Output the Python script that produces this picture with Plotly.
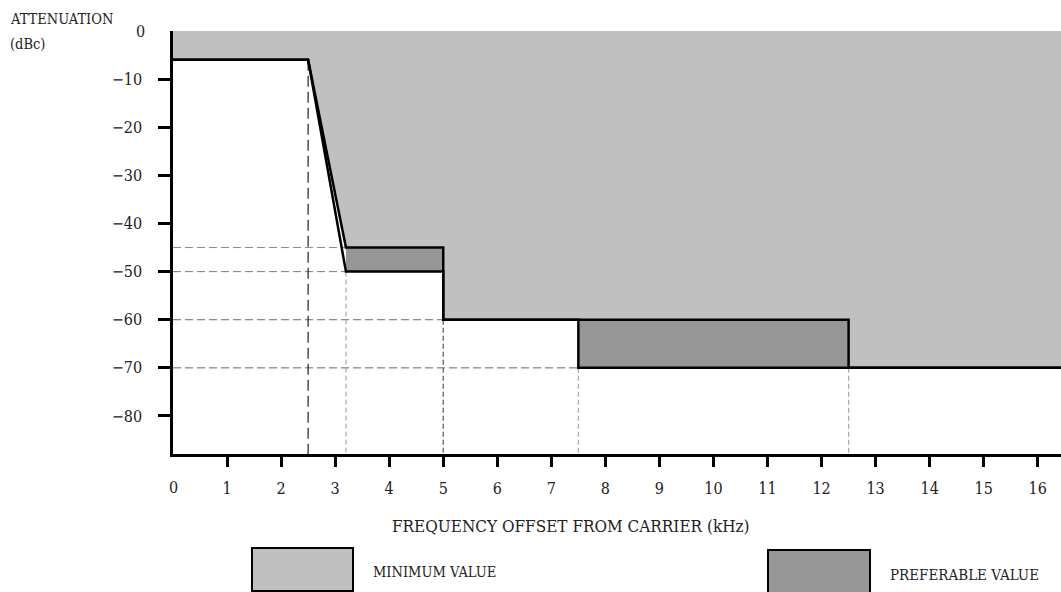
import plotly.graph_objects as go

# ---- data ----
freq_min = [0, 2.5, 3.2, 5, 5, 7.5, 7.5, 16.5]
att_min = [-6, -6, -50, -50, -60, -60, -70, -70]
freq_pref = [0, 2.5, 3.2, 5, 5, 12.5, 12.5, 16.5]
att_pref = [-6, -6, -45, -45, -60, -60, -70, -70]

# horizontal guide lines: level and x end
h_guide_levels = [-45, -50, -60, -70]
h_guide_ends = [3.2, 3.2, 5, 7.5]
h_guide_colors = ["#8a8a8a", "#7a7a7a", "#666666", "#666666"]
# vertical guide lines: frequency and top level
v_guide_freqs = [2.5, 3.2, 5, 7.5, 12.5]
v_guide_tops = [-6, -50, -60, -70, -70]
v_guide_colors = ["#222222", "#aaaaaa", "#555555", "#aaaaaa", "#aaaaaa"]
v_guide_dash = ["11px,5px", "5px,3px", "5px,3px", "5px,3px", "5px,3px"]

x_ticks = list(range(0, 17))
y_ticks = [-10, -20, -30, -40, -50, -60, -70, -80]

Y_MIN, Y_MAX = -87.9, 0
X_MIN, X_MAX = 0, 16.43

LIGHT = "#c0c0c0"
DARK = "#969696"
FONT = "DejaVu Serif Condensed"
TXT = "#222222"

fig = go.Figure()

# light gray area: above the preferable curve
fig.add_trace(go.Scatter(
    x=freq_pref + [freq_pref[-1], freq_pref[0]],
    y=att_pref + [Y_MAX, Y_MAX],
    fill="toself", fillcolor=LIGHT, mode="none", hoverinfo="skip",
    showlegend=False))

# dark gray area between preferable and minimum (from the 3.2 kHz corner on)
fig.add_trace(go.Scatter(
    x=freq_pref[2:] + freq_min[2:][::-1],
    y=att_pref[2:] + att_min[2:][::-1],
    fill="toself", fillcolor=DARK, mode="none", hoverinfo="skip",
    showlegend=False))

# guide lines
for lvl, xe, c in zip(h_guide_levels, h_guide_ends, h_guide_colors):
    fig.add_trace(go.Scatter(x=[0, xe], y=[lvl, lvl], mode="lines",
                             line=dict(color=c, width=1, dash="8px,4px"),
                             hoverinfo="skip", showlegend=False))
for fx, top, c, d in zip(v_guide_freqs, v_guide_tops, v_guide_colors, v_guide_dash):
    fig.add_trace(go.Scatter(x=[fx, fx], y=[top, Y_MIN], mode="lines",
                             line=dict(color=c, width=1.2, dash=d),
                             hoverinfo="skip", showlegend=False))

# curves
fig.add_trace(go.Scatter(x=freq_min, y=att_min, mode="lines",
                         line=dict(color="black", width=2.5),
                         hoverinfo="skip", showlegend=False))
fig.add_trace(go.Scatter(x=freq_pref, y=att_pref, mode="lines",
                         line=dict(color="black", width=2.5),
                         hoverinfo="skip", showlegend=False))

W, H = 1061, 592
ML, MR, MT, MB = 173, 0, 31, 138
PW, PH = W - ML - MR, H - MT - MB


def px(xp):
    return (xp - ML) / PW


def py(yp):
    return (H - MB - yp) / PH


fig.update_layout(
    width=W, height=H,
    margin=dict(l=ML, r=MR, t=MT, b=MB, pad=0),
    paper_bgcolor="white", plot_bgcolor="white",
    font=dict(family=FONT, size=15, color=TXT),
    showlegend=False,
    xaxis=dict(range=[X_MIN, X_MAX], tickvals=x_ticks[1:],
               ticktext=[str(v) for v in x_ticks[1:]],
               ticks="outside", ticklen=10, tickwidth=2.5, tickcolor="black",
               showline=True, linecolor="black", linewidth=2.5,
               showgrid=False, zeroline=False, ticklabelstandoff=8,
               tickfont=dict(family=FONT, size=16, color=TXT)),
    yaxis=dict(range=[Y_MIN, Y_MAX], tickvals=y_ticks,
               ticktext=["\u2212" + str(-v) for v in y_ticks],
               ticks="outside", ticklen=12, tickwidth=2.5, tickcolor="black",
               showline=True, linecolor="black", linewidth=2.5,
               showgrid=False, zeroline=False, ticklabelstandoff=13,
               tickfont=dict(family=FONT, size=16, color=TXT)),
)

ann = []
# zero labels
ann.append(dict(x=0, y=py(487), xref="x", yref="paper", text="0",
                showarrow=False, xanchor="center", yanchor="middle",
                font=dict(size=16)))
ann.append(dict(x=px(147), y=0, xref="paper", yref="y", text="0",
                showarrow=False, xanchor="right", yanchor="middle",
                font=dict(size=16)))
# axis titles
ann.append(dict(x=px(8), y=py(19), xref="paper", yref="paper",
                text="ATTENUATION", showarrow=False, xanchor="left",
                yanchor="middle", font=dict(size=14.5)))
ann.append(dict(x=px(8), y=py(44), xref="paper", yref="paper",
                text="(dBc)", showarrow=False, xanchor="left",
                yanchor="middle", font=dict(size=14.5)))
ann.append(dict(x=px(571), y=py(526), xref="paper", yref="paper",
                text="FREQUENCY OFFSET FROM CARRIER (kHz)", showarrow=False,
                xanchor="center", yanchor="middle", font=dict(size=17)))
# legend texts
ann.append(dict(x=px(371), y=py(572), xref="paper", yref="paper",
                text="MINIMUM VALUE", showarrow=False, xanchor="left",
                yanchor="middle", font=dict(size=14.5)))
ann.append(dict(x=px(888), y=py(575), xref="paper", yref="paper",
                text="PREFERABLE VALUE", showarrow=False, xanchor="left",
                yanchor="middle", font=dict(size=15)))
fig.update_layout(annotations=ann)

# legend swatches
fig.add_shape(type="rect", xref="paper", yref="paper",
              x0=px(252), x1=px(353), y0=py(591), y1=py(548),
              fillcolor=LIGHT, line=dict(color="black", width=2))
fig.add_shape(type="rect", xref="paper", yref="paper",
              x0=px(768), x1=px(870), y0=py(600), y1=py(550),
              fillcolor=DARK, line=dict(color="black", width=2))

fig.write_html("out.html",
               config={"displayModeBar": False},
               post_script="document.body.style.margin='0';"
                           "document.body.style.overflow='hidden';")
